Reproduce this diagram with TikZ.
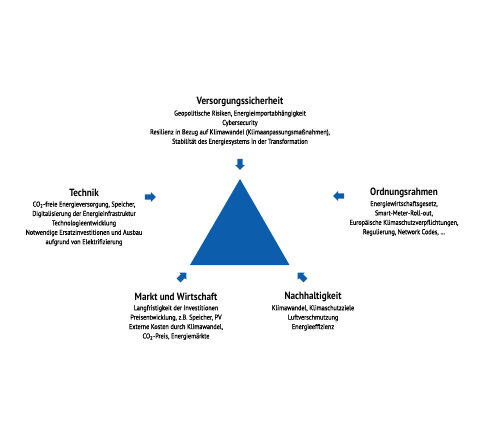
\documentclass[tikz,border=0pt]{standalone}
\usepackage{fontspec}
\setmainfont{PT Sans}[FakeStretch=0.88]
\newfontfamily\bodyfont{PT Sans}[FakeStretch=0.87, FakeBold=0.6]
\newfontfamily\titlefont{PT Sans Bold}[FakeStretch=0.87]
\usetikzlibrary{shapes.arrows}
\definecolor{dblue}{RGB}{12,94,172}
\tikzset{
  ttl/.style={font=\titlefont\fontsize{10.5}{12}\selectfont, text=black, inner sep=0pt, anchor=center},
  body/.style={font=\bodyfont\fontsize{7.1}{9.4}\selectfont, text=black, inner sep=0pt, align=center, anchor=north},
  barrow/.style={single arrow, fill=dblue, draw=none, inner sep=0pt,
    text height=2.5pt, text depth=2.5pt, text width=0pt,
    minimum height=11pt, minimum width=9.5pt, single arrow head extend=2.3pt,
    single arrow head indent=0pt}
}
\begin{document}
\begin{tikzpicture}[x=1pt,y=-1pt]
\useasboundingbox (0,0) rectangle (480,440);
% triangle
\coordinate (apex) at (240,179);
\coordinate (bl) at (190,265);
\coordinate (br) at (289.5,265);
\fill[dblue] (apex) -- (br) -- (bl) -- cycle;
% arrows
\node[barrow, rotate=-90] (atop) at (240,163) {};
\node[barrow] (aleft) at (149,197) {};
\node[barrow, rotate=180] (aright) at (340,196) {};
\node[barrow, rotate=45] (abl) at (181.5,277.5) {};
\node[barrow, rotate=135] (abr) at (302.5,277.5) {};
% top
\node[ttl] (t1) at (240,102) {Versorgungssicherheit};
\node[body] (b1) at (240,110.3) {Geopolitische Risiken, Energieimportabhängigkeit\\Cybersecurity\\Resilienz in Bezug auf Klimawandel (Klimaanpassungsmaßnahmen),\\Stabilität des Energiesystems in der Transformation};
% left
\node[ttl] (t2) at (84,193) {Technik};
\node[body] (b2) at (84,201.3) {CO\textsubscript{2}-freie Energieversorgung, Speicher,\\Digitalisierung der Energieinfrastruktur\\Technologieentwicklung\\Notwendige Ersatzinvestitionen und Ausbau\\aufgrund von Elektrifizierung};
% right
\node[ttl] (t3) at (404,193) {Ordnungsrahmen};
\node[body] (b3) at (404,200.8) {Energiewirtschaftsgesetz,\\Smart-Meter-Roll-out,\\Europäische Klimaschutzverpflichtungen,\\Regulierung, Network Codes, \dots};
% bottom left
\node[ttl] (t4) at (176,297) {Markt und Wirtschaft};
\node[body] (b4) at (176,305) {Langfristigkeit der Investitionen\\Preisentwicklung, z.B. Speicher, PV\\Externe Kosten durch Klimawandel,\\CO\textsubscript{2}-Preis, Energiemärkte};
% bottom right
\node[ttl] (t5) at (313,297) {Nachhaltigkeit};
\node[body] (b5) at (313,305) {Klimawandel, Klimaschutzziele\\Luftverschmutzung\\Energieeffizienz};
\end{tikzpicture}
\end{document}
